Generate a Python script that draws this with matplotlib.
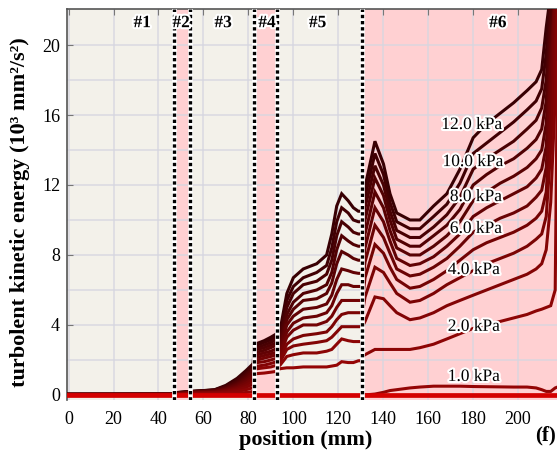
import matplotlib
matplotlib.use("Agg")
import matplotlib.pyplot as plt
import matplotlib.patheffects as pe
import numpy as np

plt.rcParams['font.family'] = ['Liberation Serif', 'DejaVu Serif']
plt.rcParams['mathtext.fontset'] = 'stix'

# ---------------- data ----------------
# x positions (mm) per region
x_r1 = [-1.0, 20.0, 40.0, 46.6]
x_r2 = [46.8, 50.0, 54.0]
x_r3 = [54.2, 56.0, 60.0, 65.0, 70.0, 75.0, 79.0, 82.2]
x_r4 = [82.4, 84.0, 87.0, 90.0, 92.6]
x_r5 = [92.9, 94.1, 97.1, 100.0, 104.4, 110.4, 114.8, 117.1, 119.3, 121.5, 124.4, 126.7, 128.9, 130.3]
x_r6 = [130.7, 131.9, 136.3, 140.1, 143.0, 146.0, 151.9, 156.3, 162.4, 168.3, 174.1, 180.0,
        186.0, 192.0, 198.0, 204.0, 208.0, 210.5, 212.5, 214.5, 216.5, 217.5]

# turbulent kinetic energy (10^3 mm^2/s^2) for each inlet pressure
k12 = ([0.04, 0.04, 0.05, 0.05] + [0.12, 0.16, 0.2] +
       [0.2, 0.22, 0.25, 0.3, 0.55, 0.95, 1.4, 1.8] + [2.8, 2.95, 3.1, 3.3, 3.5] +
       [3.0, 3.7, 5.8, 6.7, 7.2, 7.5, 8.0, 9.2, 10.8, 11.5, 11.1, 10.7, 10.5, 10.5] +
       [10.5, 11.9, 14.5, 13.2, 11.5, 10.4, 10.0, 10.0, 10.8, 11.5, 12.9, 14.7, 15.5, 16.1, 16.7, 17.4, 17.9, 18.6, 21.0, 23, 23, 23])
k11 = ([0.04, 0.04, 0.05, 0.05] + [0.11, 0.15, 0.19] +
       [0.19, 0.21, 0.24, 0.29, 0.5, 0.88, 1.3, 1.7] + [2.7, 2.85, 3.0, 3.15, 3.35] +
       [2.9, 3.5, 5.4, 6.2, 6.7, 7.0, 7.4, 8.4, 9.9, 10.7, 10.4, 10.0, 9.9, 9.9] +
       [9.9, 11.3, 13.8, 12.6, 11.0, 9.9, 9.5, 9.5, 10.2, 10.9, 12.1, 13.8, 14.4, 15.0, 15.6, 16.3, 16.8, 17.5, 19.5, 23, 23, 23])
k10 = ([0.04, 0.04, 0.04, 0.05] + [0.1, 0.14, 0.18] +
       [0.18, 0.2, 0.23, 0.27, 0.46, 0.8, 1.2, 1.6] + [2.6, 2.7, 2.85, 3.0, 3.2] +
       [2.8, 3.3, 5.0, 5.8, 6.3, 6.5, 6.9, 7.7, 9.1, 9.9, 9.6, 9.3, 9.2, 9.2] +
       [9.2, 10.7, 13.1, 12.0, 10.5, 9.4, 9.0, 9.0, 9.6, 10.3, 11.3, 12.9, 13.5, 14.0, 14.5, 15.2, 15.7, 16.4, 18.0, 22, 23, 23])
k9 = ([0.04, 0.04, 0.04, 0.05] + [0.09, 0.13, 0.17] +
      [0.17, 0.19, 0.22, 0.25, 0.42, 0.72, 1.1, 1.5] + [2.5, 2.6, 2.7, 2.85, 3.0] +
      [2.6, 3.1, 4.6, 5.3, 5.8, 6.0, 6.3, 7.0, 8.3, 9.1, 8.8, 8.6, 8.5, 8.5] +
      [8.5, 10.0, 12.4, 11.4, 10.0, 8.9, 8.5, 8.5, 9.1, 9.7, 10.6, 12.0, 12.6, 13.1, 13.5, 14.1, 14.6, 15.2, 16.8, 21, 23, 23])
k8 = ([0.03, 0.04, 0.04, 0.04] + [0.08, 0.12, 0.16] +
      [0.16, 0.18, 0.2, 0.23, 0.38, 0.65, 1.0, 1.4] + [2.35, 2.45, 2.55, 2.7, 2.85] +
      [2.5, 2.9, 4.3, 4.9, 5.4, 5.5, 5.8, 6.4, 7.5, 8.2, 8.0, 7.8, 7.7, 7.7] +
      [7.7, 9.2, 11.6, 10.7, 9.4, 8.4, 8.0, 8.0, 8.5, 9.1, 9.9, 11.1, 11.6, 12.1, 12.5, 13.0, 13.5, 14.0, 15.5, 20, 23, 23])
k7 = ([0.03, 0.03, 0.04, 0.04] + [0.07, 0.11, 0.15] +
      [0.15, 0.17, 0.19, 0.21, 0.34, 0.58, 0.9, 1.25] + [2.2, 2.3, 2.4, 2.5, 2.65] +
      [2.3, 2.7, 4.0, 4.5, 4.9, 5.0, 5.2, 5.7, 6.6, 7.2, 7.1, 7.0, 6.95, 6.95] +
      [7.0, 8.4, 10.7, 9.9, 8.8, 7.8, 7.4, 7.5, 7.9, 8.5, 9.2, 10.2, 10.7, 11.1, 11.5, 11.9, 12.4, 12.9, 14.2, 19, 23, 23])
k6 = ([0.03, 0.03, 0.03, 0.04] + [0.06, 0.1, 0.14] +
      [0.14, 0.16, 0.17, 0.19, 0.3, 0.5, 0.8, 1.1] + [2.05, 2.15, 2.25, 2.35, 2.45] +
      [2.1, 2.5, 3.6, 4.1, 4.4, 4.5, 4.7, 5.1, 5.8, 6.3, 6.3, 6.2, 6.2, 6.2] +
      [6.2, 7.6, 9.7, 9.0, 8.1, 7.2, 6.8, 6.9, 7.3, 7.8, 8.5, 9.3, 9.7, 10.1, 10.4, 10.8, 11.3, 11.7, 13.0, 18, 23, 23])
k5 = ([0.03, 0.03, 0.03, 0.03] + [0.05, 0.09, 0.12] +
      [0.12, 0.14, 0.15, 0.17, 0.26, 0.43, 0.68, 0.95] + [1.9, 2.0, 2.1, 2.2, 2.3] +
      [2.0, 2.3, 3.3, 3.7, 4.0, 4.0, 4.2, 4.5, 5.0, 5.4, 5.4, 5.4, 5.4, 5.4] +
      [5.4, 6.7, 8.6, 8.1, 7.3, 6.6, 6.1, 6.2, 6.6, 7.1, 7.7, 8.3, 8.7, 9.0, 9.3, 9.7, 10.1, 10.5, 11.6, 16, 22, 23])
k4 = ([0.02, 0.03, 0.03, 0.03] + [0.05, 0.08, 0.11] +
      [0.11, 0.12, 0.13, 0.15, 0.22, 0.36, 0.56, 0.8] + [1.75, 1.85, 1.9, 2.0, 2.1] +
      [1.8, 2.1, 2.9, 3.2, 3.4, 3.5, 3.6, 3.9, 4.3, 4.6, 4.7, 4.7, 4.7, 4.7] +
      [4.7, 5.6, 7.3, 7.0, 6.4, 5.8, 5.3, 5.4, 5.8, 6.3, 6.7, 7.1, 7.5, 7.8, 8.1, 8.5, 8.9, 9.2, 10.2, 14, 20, 23])
k3 = ([0.02, 0.02, 0.03, 0.03] + [0.04, 0.07, 0.1] +
      [0.1, 0.1, 0.11, 0.13, 0.18, 0.28, 0.44, 0.62] + [1.6, 1.65, 1.7, 1.8, 1.9] +
      [1.7, 1.9, 2.6, 2.8, 2.9, 3.0, 3.1, 3.3, 3.6, 3.9, 3.9, 3.9, 3.9, 3.9] +
      [3.9, 4.2, 5.6, 5.5, 5.1, 4.7, 4.3, 4.4, 4.7, 5.1, 5.4, 5.7, 6.0, 6.3, 6.6, 6.9, 7.2, 7.5, 8.3, 11, 17, 22])
k2 = ([0.02, 0.02, 0.02, 0.02] + [0.03, 0.05, 0.08] +
      [0.08, 0.08, 0.09, 0.1, 0.13, 0.2, 0.3, 0.42] + [1.45, 1.5, 1.55, 1.6, 1.7] +
      [1.6, 1.7, 2.2, 2.3, 2.4, 2.4, 2.5, 2.6, 2.9, 3.2, 3.1, 3.05, 3.05, 3.05] +
      [2.2, 2.3, 2.6, 2.6, 2.6, 2.6, 2.6, 2.7, 2.9, 3.2, 3.5, 3.8, 4.0, 4.2, 4.4, 4.6, 4.8, 4.9, 5.0, 5.1, 6.0, 19])
k1 = ([0.01, 0.01, 0.01, 0.01] + [0.02, 0.03, 0.04] +
      [0.05, 0.05, 0.05, 0.06, 0.08, 0.1, 0.14, 0.2] + [1.2, 1.22, 1.25, 1.3, 1.35] +
      [1.4, 1.5, 1.55, 1.55, 1.6, 1.6, 1.6, 1.65, 1.7, 1.9, 1.85, 1.85, 1.95, 1.96] +
      [0.0, 0.0, 0.05, 0.15, 0.25, 0.3, 0.4, 0.45, 0.5, 0.5, 0.5, 0.48, 0.47, 0.46, 0.45, 0.45, 0.4, 0.3, 0.2, 0.2, 0.4, 0.45])
base_x = [-1.0, 217.5]
base_k = [0.0, 0.0]

pressures = [12, 11, 10, 9, 8, 7, 6, 5, 4, 3, 2, 1]
series = [k12, k11, k10, k9, k8, k7, k6, k5, k4, k3, k2, k1]

label_text = ["12.0 kPa", "10.0 kPa", "8.0 kPa", "6.0 kPa", "4.0 kPa", "2.0 kPa", "1.0 kPa"]
label_x = [179.4, 179.9, 181.2, 181.2, 180.3, 180.3, 180.3]
label_y = [15.43, 13.31, 11.31, 9.49, 7.14, 3.89, 1.03]

region_names = ["#1", "#2", "#3", "#4", "#5", "#6"]
region_name_x = [32.8, 50.1, 68.8, 88.3, 110.8, 191.0]
region_edges = [46.7, 54.1, 82.3, 92.7, 130.5]
pink_spans = [(46.7, 54.1), (82.3, 92.7), (130.5, 230.0)]

x_all = x_r1 + x_r2 + x_r3 + x_r4 + x_r5 + x_r6

# ---------------- figure ----------------
fig = plt.figure(figsize=(5.57, 4.59), dpi=100)
ax = fig.add_axes([67/557, 1 - 400/459, 1 - 67/557, (400 - 9)/459])
ax.set_facecolor('#f3f1ea')
ax.set_xlim(-0.7, 217.3)
ax.set_ylim(-0.29, 22.06)

for a, b in pink_spans:
    ax.axvspan(a, b, color='#ffd0d2', zorder=0, lw=0)

ax.set_xticks(np.arange(0, 201, 20))
ax.set_yticks(np.arange(0, 21, 4))
ax.set_yticks(np.arange(2, 22, 4), minor=True)
ax.grid(True, which='both', color='#d6d6e0', lw=1.3, alpha=0.75, zorder=1)
ax.set_axisbelow(True)

def col(p):
    t = (p - 1) / 11.0
    r = 0.58 * (1 - t) + 0.22 * t
    g = 0.02 * (1 - t) + 0.0 * t
    b = 0.02 * (1 - t) + 0.01 * t
    return (r, g, b)

for p, k in zip(pressures, series):
    ax.plot(x_all, k, color=col(p), lw=2.2, zorder=3, solid_joinstyle='miter')
ax.plot(base_x, base_k, color='#d40000', lw=3.4, zorder=4)

for xe in region_edges:
    ax.axvline(xe, color='white', lw=3.4, zorder=5)
    ax.axvline(xe, color='black', lw=2.4, linestyle=(0, (1.0, 0.85)), zorder=6)

outline = [pe.withStroke(linewidth=3, foreground='white')]
for nm, xn in zip(region_names, region_name_x):
    ax.text(xn, 21.25, nm, ha='center', va='center', fontsize=12.5, fontweight='bold',
            path_effects=outline, zorder=8)

for t, lx, ly in zip(label_text, label_x, label_y):
    ax.text(lx, ly, t, ha='center', va='center', fontsize=12.5,
            path_effects=outline, zorder=8)

for s in ['right', 'bottom']:
    ax.spines[s].set_visible(False)
for s in ['left', 'top']:
    ax.spines[s].set_color('#555555')
    ax.spines[s].set_linewidth(1.2)

ax.tick_params(axis='both', which='both', direction='in', color='#777777', length=4,
               labelsize=13, top=True, bottom=False, labeltop=False)
ax.tick_params(axis='x', pad=8)
ax.tick_params(axis='y', pad=5)
ax.tick_params(which='minor', length=0)

fig.text(306/557, 1 - 440/459, 'position (mm)', ha='center', va='center',
         fontsize=16, fontweight='bold')
fig.text(20/557, 1 - 212/459, 'turbolent kinetic energy (10³ mm²/s²)', ha='center',
         va='center', rotation=90, fontsize=16, fontweight='bold')
fig.text(545/557, 1 - 435/459, '(f)', ha='center', va='center', fontsize=15,
         fontweight='bold')

fig.savefig('out.png', dpi=100)
